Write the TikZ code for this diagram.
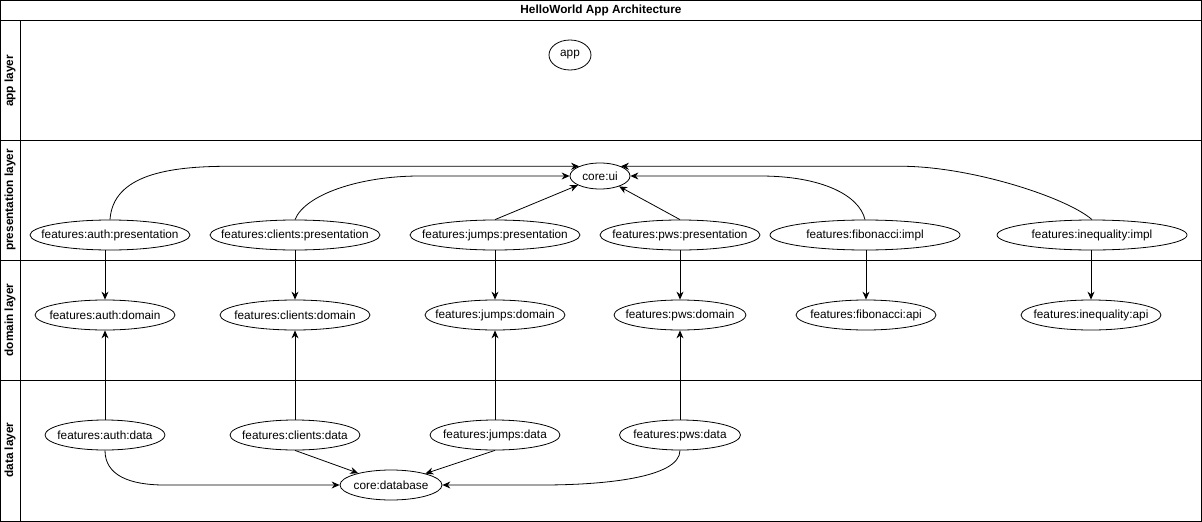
\documentclass[tikz,border=0pt]{standalone}
\usepackage{fontspec}
\setmainfont{Liberation Sans}
\usetikzlibrary{shapes.geometric,arrows.meta}

\tikzset{
  module/.style={ellipse, draw, line width=0.8pt, inner sep=0pt, minimum height=30pt, font=\fontsize{11.8}{13}\selectfont},
  dep/.style={line width=0.8pt, -{Stealth[length=8pt,width=7pt]}},
  lanelabel/.style={rotate=90, font=\fontsize{11.8}{13}\selectfont\bfseries},
  laneline/.style={line width=1pt}
}
\newcommand{\modname}[1]{\makebox[0pt]{#1}}

\begin{document}
\begin{tikzpicture}[x=1pt, y=-1pt]
\useasboundingbox (0,0) rectangle (1202,522);

% pool and lane section
\draw[laneline] (0.5,0.5) rectangle (1201.5,521.5);
\draw[laneline] (0.5,20) -- (1201.5,20);
\draw[laneline] (20,20) -- (20,521.5);
\draw[laneline] (0.5,140) -- (1201.5,140);
\draw[laneline] (0.5,260) -- (1201.5,260);
\draw[laneline] (0.5,380) -- (1201.5,380);
\node[font=\fontsize{11.8}{13}\selectfont\bfseries] (poolTitle) at (601,10) {HelloWorld App Architecture};
\node[lanelabel] (appLayer) at (10,81) {app layer};
\node[lanelabel] (presentationLayer) at (10,200) {presentation layer};
\node[lanelabel] (domainLayer) at (10,320) {domain layer};
\node[lanelabel] (dataLayer) at (10,450) {data layer};

% app layer section
\node[module, minimum width=42pt] (app) at (570,55) {\modname{app}};

% presentation layer section
\node[module, minimum width=60pt, minimum height=26pt] (coreUi) at (600,176) {\modname{core:ui}};
\node[module, minimum width=160pt] (authPres) at (110,235) {\modname{features:auth:presentation}};
\node[module, minimum width=170pt] (clientsPres) at (295,235) {\modname{features:clients:presentation}};
\node[module, minimum width=170pt] (jumpsPres) at (495,235) {\modname{features:jumps:presentation}};
\node[module, minimum width=160pt] (pwsPres) at (680,235) {\modname{features:pws:presentation}};
\node[module, minimum width=190pt] (fibPres) at (865,235) {\modname{features:fibonacci:impl}};
\node[module, minimum width=190pt] (ineqPres) at (1092,235) {\modname{features:inequality:impl}};

% domain layer section
\node[module, minimum width=140pt] (authDomain) at (105,315) {\modname{features:auth:domain}};
\node[module, minimum width=150pt] (clientsDomain) at (295,315) {\modname{features:clients:domain}};
\node[module, minimum width=140pt] (jumpsDomain) at (495,315) {\modname{features:jumps:domain}};
\node[module, minimum width=132pt] (pwsDomain) at (680,315) {\modname{features:pws:domain}};
\node[module, minimum width=140pt] (fibApi) at (866,315) {\modname{features:fibonacci:api}};
\node[module, minimum width=140pt] (ineqApi) at (1091,315) {\modname{features:inequality:api}};

% data layer section
\node[module, minimum width=120pt] (authData) at (105,435) {\modname{features:auth:data}};
\node[module, minimum width=130pt] (clientsData) at (295,435) {\modname{features:clients:data}};
\node[module, minimum width=130pt] (jumpsData) at (495,435) {\modname{features:jumps:data}};
\node[module, minimum width=121pt] (pwsData) at (680,435) {\modname{features:pws:data}};
\node[module, minimum width=102pt] (coreDatabase) at (391,485) {\modname{core:database}};

% presentation -> core:ui
\draw[dep] (authPres.north) .. controls +(3,-45) and +(-60,0) .. ([xshift=-350pt]coreUi.155) -- (coreUi.155);
\draw[dep] (clientsPres.north) .. controls +(10,-25) and +(-60,0) .. ([xshift=-150pt]coreUi.west) -- (coreUi.west);
\draw[dep] (jumpsPres.north) -- (coreUi);
\draw[dep] (pwsPres.north) -- (coreUi);
\draw[dep] (fibPres.north) .. controls +(-6,-25) and +(60,0) .. ([xshift=130pt]coreUi.east) -- (coreUi.east);
\draw[dep] (ineqPres.north) .. controls +(-25,-22) and +(70,0) .. ([xshift=280pt]coreUi.25) -- (coreUi.25);

% presentation -> domain
\draw[dep] (authPres.south -| authDomain.north) -- (authDomain.north);
\draw[dep] (clientsPres) -- (clientsDomain);
\draw[dep] (jumpsPres) -- (jumpsDomain);
\draw[dep] (pwsPres) -- (pwsDomain);
\draw[dep] (fibPres.south -| fibApi.north) -- (fibApi.north);
\draw[dep] (ineqPres.south -| ineqApi.north) -- (ineqApi.north);

% data -> domain
\draw[dep] (authData) -- (authDomain);
\draw[dep] (clientsData) -- (clientsDomain);
\draw[dep] (jumpsData) -- (jumpsDomain);
\draw[dep] (pwsData) -- (pwsDomain);

% data -> core:database
\draw[dep] (authData.south) .. controls +(0,25) and +(-35,0) .. ([xshift=-175pt]coreDatabase.west) -- (coreDatabase.west);
\draw[dep] (clientsData.south) -- (coreDatabase);
\draw[dep] (jumpsData.south) -- (coreDatabase);
\draw[dep] (pwsData.south) .. controls +(0,28) and +(58,0) .. ([xshift=100pt]coreDatabase.east) -- (coreDatabase.east);

\end{tikzpicture}
\end{document}
